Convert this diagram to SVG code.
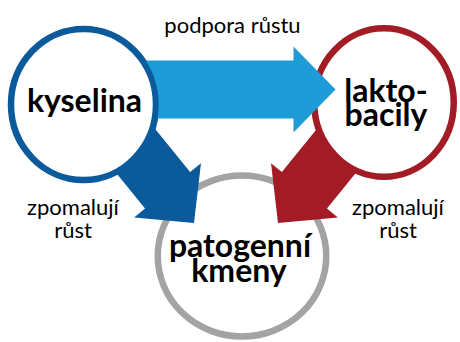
<svg xmlns="http://www.w3.org/2000/svg" width="460" height="342" viewBox="0 0 460 342">
<style>
.ring{fill:#fff;stroke-width:6.5}
.b{font-family:Lato,"Open Sans","DejaVu Sans",sans-serif;font-weight:bold;font-size:32px;fill:#000;text-anchor:middle}
.r{font-family:Lato,"Open Sans","DejaVu Sans",sans-serif;font-size:22px;fill:#000;text-anchor:middle}
</style>
<defs>
<path id="arr" d="M0 0L-42 -43V-29H-130V29H-42V43Z"/>
<clipPath id="outK"><path clip-rule="evenodd" d="M0 0H460V342H0Z M8.25 104.5a75.25 78.25 0 1 0 150.5 0a75.25 78.25 0 1 0 -150.5 0Z"/></clipPath>
<clipPath id="outL"><path clip-rule="evenodd" d="M0 0H460V342H0Z M311.5 102.5a72.5 77 0 1 0 145 0a72.5 77 0 1 0 -145 0Z"/></clipPath>
</defs>
<g id="patogenni">
<ellipse class="ring" cx="242" cy="256" rx="84.25" ry="80.5" stroke="#a3a3a3" stroke-width="7"/>
<text class="b" x="240" y="257">patogenní<tspan x="239" dy="25">kmeny</tspan></text>
</g>
<g id="kyselina">
<ellipse class="ring" cx="83.5" cy="104.5" rx="72.5" ry="75.5" stroke="#0a5a9c"/>
<text class="b" x="84.5" y="112">kyselina</text>
</g>
<g id="laktobacily">
<ellipse class="ring" cx="384" cy="102.5" rx="69.75" ry="74.25" stroke="#a21b25"/>
<text class="b" x="386" y="102">lakto-<tspan x="386" dy="24">bacily</tspan></text>
</g>
<g id="connectors">
<g clip-path="url(#outL)"><use href="#arr" fill="#a21b25" transform="translate(278,223) scale(-1,1) rotate(51)"/></g>
<g clip-path="url(#outK)"><use href="#arr" fill="#0a5a9c" transform="translate(194,223) rotate(51)"/></g>
<g clip-path="url(#outK)"><path fill="#1e9cd7" d="M335.5 89.5L293.5 46.5V60.5H120V118.5H293.5V132.5Z"/></g>
</g>
<g id="labels">
<text class="r" x="232.5" y="33">podpora růstu</text>
<text class="r" x="73" y="215">zpomalují<tspan x="73" dy="23">růst</tspan></text>
<text class="r" x="398" y="215">zpomalují<tspan x="398" dy="23">růst</tspan></text>
</g>
</svg>
